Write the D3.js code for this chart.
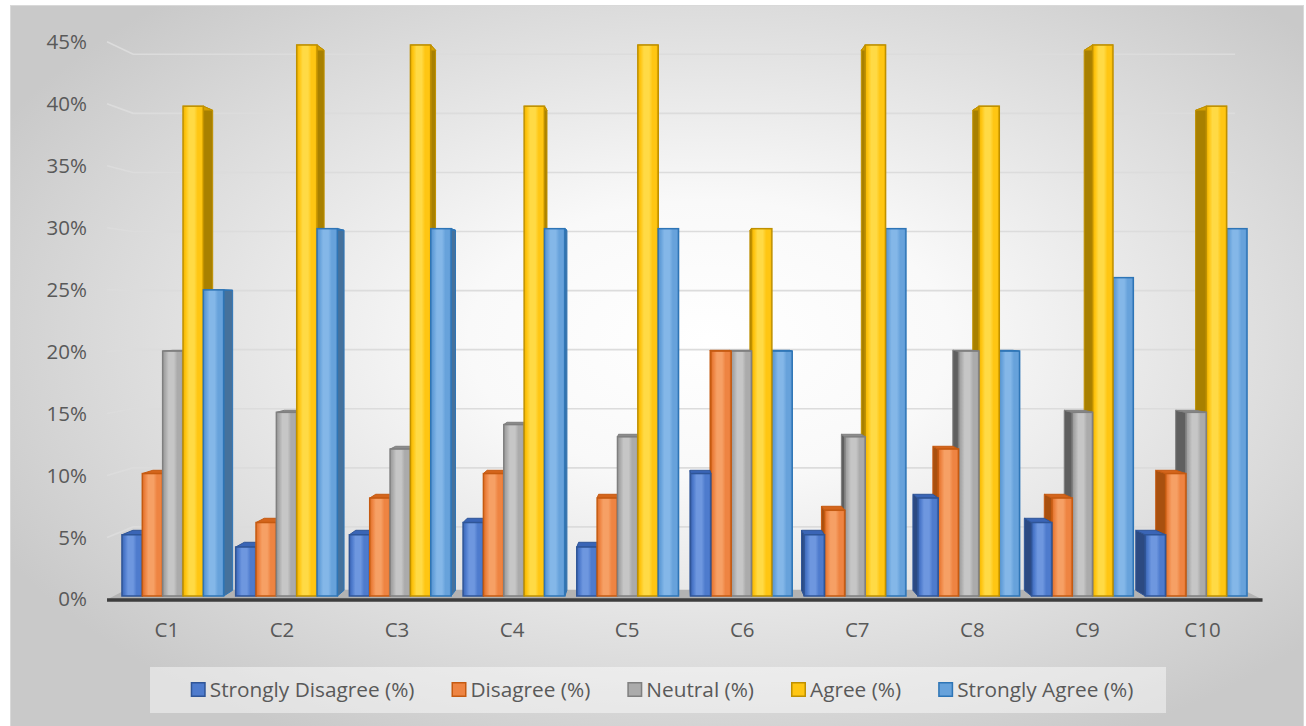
<!DOCTYPE html>
<html>
<head>
<meta charset="utf-8">
<script src="https://cdn.jsdelivr.net/npm/d3@7"></script>
<style>
  html, body { margin: 0; padding: 0; background: #ffffff; }
  svg { display: block; }
</style>
</head>
<body>
<svg id="chart" width="1306" height="726"></svg>
<script>
// ---- data ----
const categories = ["C1", "C2", "C3", "C4", "C5", "C6", "C7", "C8", "C9", "C10"];
const seriesNames = ["Strongly Disagree (%)", "Disagree (%)", "Neutral (%)", "Agree (%)", "Strongly Agree (%)"];
const stronglyDisagree = [5, 4, 5, 6, 4, 10, 5, 8, 6, 5];
const disagree         = [10, 6, 8, 10, 8, 20, 7, 12, 8, 10];
const neutral          = [20, 15, 12, 14, 13, 20, 13, 20, 15, 15];
const agree            = [40, 45, 45, 40, 45, 30, 45, 40, 45, 40];
const stronglyAgree    = [25, 30, 30, 30, 30, 20, 30, 20, 26, 30];
const yTicks = [0, 5, 10, 15, 20, 25, 30, 35, 40, 45];

const seriesValues = [stronglyDisagree, disagree, neutral, agree, stronglyAgree];

// ---- styles per series ----
const palette = [
  { base: "#4E7BCD", light: "#6E97DF", edge: "#3C66B4", border: "#2F5597", side: "#2C4A82", top: "#3A65B6" },
  { base: "#EE8442", light: "#F6A065", edge: "#DD6E26", border: "#C55A11", side: "#A9500F", top: "#D4651C" },
  { base: "#ABABAB", light: "#C6C6C6", edge: "#999999", border: "#7F7F7F", side: "#5F5F5F", top: "#8C8C8C" },
  { base: "#FFC613", light: "#FFDA45", edge: "#F0B400", border: "#BF9000", side: "#A88000", top: "#D9A400" },
  { base: "#67A2DB", light: "#84B7E8", edge: "#5591CF", border: "#2E75B6", side: "#45719C", top: "#3E80C0" }
];

const W = 1306, H = 726;
const FONT = "'Open Sans', sans-serif";
const svg = d3.select("#chart");
const defs = svg.append("defs");

// perspective: depth k pulls a point toward the vanishing point
const VX = 670, VY = 310;
const K_AXIS = -0.012, K_BACK = 0.02, K_WALL = 0.035, K_FLOOR = 0.022;
const P = (x, y, k) => [x + (VX - x) * k, y + (VY - y) * k];
const pts = arr => arr.map(p => p.join(",")).join(" ");

// ---- background ----
const bg = defs.append("radialGradient").attr("id", "bgGrad")
  .attr("cx", 0.54).attr("cy", 0.45).attr("r", 0.62);
bg.append("stop").attr("offset", 0).attr("stop-color", "#ffffff");
bg.append("stop").attr("offset", 0.3).attr("stop-color", "#f9f9f9");
bg.append("stop").attr("offset", 1).attr("stop-color", "#c9c9c9");

svg.append("rect")
  .attr("x", 10.5).attr("y", 5.5).attr("width", 1293).attr("height", 740)
  .attr("fill", "url(#bgGrad)").attr("stroke", "#d9d9d9").attr("stroke-width", 1);

// ---- scales ----
const x0 = d3.scaleBand().domain(categories).range([114, 1255])
  .paddingInner(0.105).paddingOuter(0.07);
const x1 = d3.scaleBand().domain(d3.range(seriesNames.length)).range([0, x0.bandwidth()]).padding(0);
const y = d3.scaleLinear().domain([0, 45]).range([596, 45]);

// ---- back wall + left wall gridlines ----
const wallL = 113.7, wallR = 1255.5;
const grid = svg.append("g").attr("fill", "none").attr("stroke", "#dcdcdc").attr("stroke-width", 1.6);
yTicks.filter(v => v > 0).forEach(v => {
  const a = P(wallL, y(v), K_AXIS), b = P(wallL, y(v), K_WALL), c = P(wallR, y(v), K_WALL);
  grid.append("polyline").attr("points", pts([a, b, c]));
});

// ---- floor ----
{
  const fl = [P(wallL, y(0), K_AXIS), P(wallR, y(0), K_AXIS), P(wallR, y(0), K_FLOOR), P(wallL, y(0), K_FLOOR)];
  svg.append("polygon").attr("points", pts(fl)).attr("fill", "#b3b3b3");
  const a = P(wallL, y(0), K_AXIS), b = P(wallR, y(0), K_AXIS);
  svg.append("line").attr("x1", a[0]).attr("y1", a[1] + 0.5).attr("x2", b[0]).attr("y2", b[1] + 0.5)
    .attr("stroke", "#3d3d3d").attr("stroke-width", 3.4);
}

// ---- front-face gradients ----
palette.forEach((c, i) => {
  const g = defs.append("linearGradient").attr("id", "front" + i)
    .attr("x1", 0).attr("x2", 1).attr("y1", 0).attr("y2", 0);
  [[0, c.edge], [0.14, c.base], [0.3, c.light], [0.55, c.light], [0.72, c.base], [0.9, c.base], [1, c.edge]]
    .forEach(([o, col]) => g.append("stop").attr("offset", o).attr("stop-color", col));
});

// ---- bars ----
const bars = [];
categories.forEach((cat, ci) => {
  seriesValues.forEach((vals, si) => {
    const bx0 = x0(cat) + x1(si);
    const bx1 = bx0 + x1.bandwidth();
    bars.push({ ci, si, v: vals[ci], bx0, bx1, yt: y(vals[ci]), yb: y(0) });
  });
});
// far-from-centre bars first so nearer ones cover their side faces
bars.sort((a, b) => Math.abs((b.bx0 + b.bx1) / 2 - VX) - Math.abs((a.bx0 + a.bx1) / 2 - VX));

const barLayer = svg.append("g");
bars.forEach(d => {
  const c = palette[d.si];
  const g = barLayer.append("g");
  const cx = (d.bx0 + d.bx1) / 2;
  const sx = cx < VX ? d.bx1 : d.bx0;
  // side face
  g.append("polygon")
    .attr("points", pts([[sx, d.yt], [sx, d.yb], P(sx, d.yb, K_BACK), P(sx, d.yt, K_BACK)]))
    .attr("fill", c.side).attr("stroke", c.border).attr("stroke-width", 1).attr("stroke-linejoin", "round");
  // top face
  g.append("polygon")
    .attr("points", pts([[d.bx0, d.yt], [d.bx1, d.yt], P(d.bx1, d.yt, K_BACK), P(d.bx0, d.yt, K_BACK)]))
    .attr("fill", c.top).attr("stroke", c.border).attr("stroke-width", 1).attr("stroke-linejoin", "round");
  // front face
  g.append("rect")
    .attr("x", d.bx0).attr("y", d.yt)
    .attr("width", d.bx1 - d.bx0).attr("height", d.yb - d.yt)
    .attr("fill", "url(#front" + d.si + ")")
    .attr("stroke", c.border).attr("stroke-width", 1.5);
});

// ---- value axis (on the front plane) ----
const yAxisScale = d3.scaleLinear().domain([0, 45])
  .range([P(wallL, y(0), K_AXIS)[1], P(wallL, y(45), K_AXIS)[1]]);
const yAxis = svg.append("g").attr("transform", "translate(87,0)")
  .call(d3.axisLeft(yAxisScale).tickValues(yTicks).tickFormat(d => d + "%").tickSize(0).tickPadding(0));
yAxis.select(".domain").remove();
yAxis.selectAll("text")
  .attr("fill", "#595959").style("font-family", FONT).style("font-size", "20.5px");

// ---- category axis (on the front plane) ----
const xAxisScale = x0.copy().range([P(114, 0, K_AXIS)[0], P(1255, 0, K_AXIS)[0]]);
const xAxis = svg.append("g").attr("transform", "translate(0,622)")
  .call(d3.axisBottom(xAxisScale).tickSize(0).tickPadding(0));
xAxis.select(".domain").remove();
xAxis.selectAll("text")
  .attr("fill", "#595959").style("font-family", FONT).style("font-size", "20.5px");

// ---- legend ----
svg.append("rect")
  .attr("x", 150).attr("y", 667).attr("width", 1016).attr("height", 46)
  .attr("fill", "#ffffff").attr("fill-opacity", 0.45);

const legend = svg.append("g");
const items = legend.selectAll("g.item").data(seriesNames).join("g").attr("class", "item");
items.append("rect")
  .attr("x", 0.75).attr("y", -7.25).attr("width", 13.5).attr("height", 13.5)
  .attr("fill", (d, i) => palette[i].base).attr("stroke", (d, i) => palette[i].border).attr("stroke-width", 1.5);
items.append("text")
  .attr("x", 19).attr("y", 0).attr("dy", "0.35em")
  .attr("fill", "#595959").style("font-family", FONT).style("font-size", "20.8px")
  .text(d => d);

const gap = 37;
const widths = [];
items.each(function () {
  widths.push(19 + this.querySelector("text").getComputedTextLength());
});
const total = d3.sum(widths) + gap * (widths.length - 1);
const start = 662 - total / 2;
let cursor = 0;
items.attr("transform", (d, i) => {
  const t = `translate(${start + cursor},690)`;
  cursor += widths[i] + gap;
  return t;
});
</script>
</body>
</html>
